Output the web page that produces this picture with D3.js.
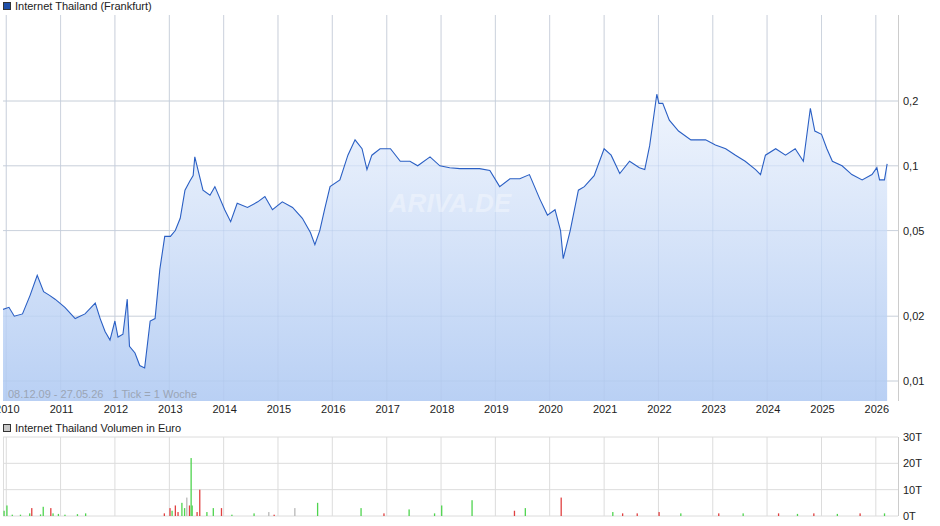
<!DOCTYPE html><html><head><meta charset="utf-8"><script src="https://cdn.jsdelivr.net/npm/d3@7"></script>
<style>body{margin:0;background:#fff;font-family:"Liberation Sans",Arial,sans-serif}text{white-space:pre}</style></head><body><svg id="c" width="940" height="526"></svg><script>
const priceT=[2009.94,2010.05,2010.15,2010.3,2010.44,2010.57,2010.69,2010.8,2010.9,2011.08,2011.27,2011.45,2011.64,2011.73,2011.82,2011.91,2012.0,2012.06,2012.15,2012.23,2012.27,2012.37,2012.46,2012.55,2012.65,2012.74,2012.83,2012.92,2013.02,2013.11,2013.2,2013.29,2013.38,2013.44,2013.47,2013.62,2013.75,2013.84,2014.02,2014.13,2014.25,2014.44,2014.63,2014.76,2014.9,2015.08,2015.27,2015.45,2015.6,2015.68,2015.77,2015.86,2015.96,2016.14,2016.29,2016.42,2016.55,2016.64,2016.73,2016.88,2017.07,2017.25,2017.43,2017.57,2017.8,2017.98,2018.16,2018.35,2018.53,2018.71,2018.9,2019.08,2019.27,2019.45,2019.63,2019.82,2019.96,2020.1,2020.2,2020.25,2020.38,2020.53,2020.64,2020.82,2021.0,2021.13,2021.29,2021.47,2021.65,2021.75,2021.84,2021.97,2022.01,2022.08,2022.2,2022.37,2022.6,2022.87,2023.05,2023.24,2023.42,2023.6,2023.79,2023.88,2023.97,2024.16,2024.34,2024.52,2024.67,2024.8,2024.88,2025.0,2025.1,2025.2,2025.38,2025.56,2025.75,2025.93,2026.02,2026.07,2026.16,2026.21];
const priceV=[0.0215,0.022,0.020,0.0205,0.025,0.031,0.026,0.025,0.024,0.022,0.0195,0.0205,0.023,0.0195,0.017,0.0155,0.019,0.016,0.0165,0.024,0.0145,0.0135,0.0118,0.0115,0.019,0.0195,0.033,0.047,0.047,0.05,0.057,0.077,0.085,0.09,0.11,0.077,0.073,0.08,0.0625,0.055,0.067,0.064,0.068,0.072,0.0625,0.068,0.064,0.057,0.049,0.043,0.05,0.0625,0.08,0.086,0.112,0.132,0.12,0.096,0.112,0.12,0.12,0.105,0.105,0.1,0.11,0.1,0.098,0.097,0.097,0.097,0.095,0.08,0.087,0.087,0.091,0.07,0.059,0.0625,0.05,0.037,0.05,0.077,0.08,0.09,0.12,0.112,0.092,0.105,0.098,0.096,0.124,0.215,0.195,0.195,0.163,0.145,0.132,0.132,0.125,0.12,0.112,0.105,0.096,0.091,0.112,0.12,0.112,0.12,0.105,0.185,0.145,0.14,0.12,0.105,0.1,0.091,0.086,0.091,0.098,0.086,0.086,0.102];
const volT=[2009.95,2010.0,2010.1,2010.25,2010.42,2010.46,2010.62,2010.67,2010.81,2010.85,2010.95,2011.07,2011.3,2011.45,2012.9,2013.0,2013.04,2013.1,2013.15,2013.22,2013.27,2013.31,2013.36,2013.41,2013.39,2013.5,2013.55,2013.68,2013.8,2013.95,2014.14,2014.55,2014.82,2014.92,2015.3,2015.72,2016.52,2016.94,2017.4,2017.87,2018.0,2018.56,2019.34,2019.54,2020.2,2021.15,2021.33,2021.6,2022.0,2022.4,2023.1,2023.55,2024.2,2024.55,2024.85,2025.28,2025.7,2026.15];
const volV=[2,4,0.5,0.5,1,3,0.6,3.5,3,1,0.8,0.5,0.7,1,1,3,2,4,1.5,5,3,7,4,4,22,1.5,10,1.5,3,3,0.5,1,1.5,0.5,3,5,3,1,2.5,1,4,6,2,3,7,1.5,1,1,1.5,1,1,1,1,0.8,1,0.8,1,1];
const volC=["g","g","g","g","g","r","g","g","r","g","g","g","g","g","r","r","g","r","r","g","g","n","r","g","g","r","r","g","g","r","g","g","n","r","n","g","g","r","g","g","g","g","r","g","r","g","r","r","r","g","r","g","r","g","r","g","r","g"];
const years=d3.range(2010,2027);
const priceTicks=[0.01,0.02,0.05,0.1,0.2];
const volTicks=[0,10,20,30];

const svg=d3.select("#c");
const toDate=t=>{const y=Math.floor(t);return new Date(y,0,1+(t-y)*365);};
const x=d3.scaleTime().domain([toDate(2009.94),toDate(2026.41)]).range([3,898]);
const y=d3.scaleLog().domain([0.01,0.2]).range([381,101]);
const yv=d3.scaleLinear().domain([0,30]).range([516,437]);
const defs=svg.append("defs");
const g=defs.append("linearGradient").attr("id","gr").attr("x1",0).attr("y1",0).attr("x2",0).attr("y2",1);
g.append("stop").attr("offset",0).attr("stop-color","#f0f5fd");
g.append("stop").attr("offset",1).attr("stop-color","#b9d0f4");
defs.append("clipPath").attr("id","cp").append("rect").attr("x",3).attr("y",15).attr("width",895).attr("height",386);
svg.append("rect").attr("x",3).attr("y",15).attr("width",895).attr("height",386).attr("fill","#fff");
const grid="#dcdcdc";
svg.append("g").selectAll("line").data(years).join("line").attr("x1",d=>x(new Date(d,0,1))).attr("x2",d=>x(new Date(d,0,1))).attr("y1",15).attr("y2",401).attr("stroke",grid);
svg.append("g").selectAll("line").data(priceTicks).join("line").attr("x1",3).attr("x2",898).attr("y1",d=>y(d)).attr("y2",d=>y(d)).attr("stroke",grid);
const data=priceT.map((t,i)=>({d:toDate(t),v:priceV[i]}));
const pg=svg.append("g").attr("clip-path","url(#cp)");
pg.append("path").datum(data).attr("d",d3.area().x(d=>x(d.d)).y0(401).y1(d=>y(d.v))).attr("fill","url(#gr)");
pg.append("g").selectAll("line").data(years).join("line").attr("x1",d=>x(new Date(d,0,1))).attr("x2",d=>x(new Date(d,0,1))).attr("y1",15).attr("y2",401).attr("stroke","#a9c0e4").attr("stroke-opacity",0.3);
pg.append("g").selectAll("line").data(priceTicks).join("line").attr("x1",3).attr("x2",898).attr("y1",d=>y(d)).attr("y2",d=>y(d)).attr("stroke","#a9c0e4").attr("stroke-opacity",0.3);
pg.append("path").datum(data).attr("d",d3.line().x(d=>x(d.d)).y(d=>y(d.v))).attr("fill","none").attr("stroke","#2a5fc4").attr("stroke-width",1.1);
svg.append("text").attr("x",450).attr("y",212).attr("text-anchor","middle").attr("font-size",26).attr("font-style","italic").attr("font-weight","bold").attr("fill","#fff").attr("fill-opacity",0.35).text("ARIVA.DE");
svg.append("line").attr("x1",898.5).attr("x2",898.5).attr("y1",15).attr("y2",401).attr("stroke","#ccc");
svg.append("g").selectAll("text").data(priceTicks).join("text").attr("x",903).attr("y",d=>y(d)+4).attr("font-size",11).attr("fill","#222").text(d=>String(d).replace(".",","));
svg.append("g").selectAll("text").data(years).join("text").attr("x",d=>x(new Date(d,0,1))+1).attr("y",413).attr("text-anchor","middle").attr("font-size",11).attr("fill","#222").text(d=>d);
svg.append("text").attr("x",8).attr("y",398).attr("font-size",11).attr("fill","#9aa5b5").text("08.12.09 - 27.05.26   1 Tick = 1 Woche");
svg.append("rect").attr("x",3.5).attr("y",2.5).attr("width",7).attr("height",7).attr("fill","#1f4fa8").attr("stroke","#333");
svg.append("text").attr("x",15).attr("y",10).attr("font-size",11).attr("fill","#222").text("Internet Thailand (Frankfurt)");
svg.append("rect").attr("x",3.5).attr("y",424.5).attr("width",7).attr("height",7).attr("fill","#c8c8c8").attr("stroke","#333");
svg.append("text").attr("x",15).attr("y",432).attr("font-size",11).attr("fill","#222").text("Internet Thailand Volumen in Euro");
svg.append("g").selectAll("line").data(years).join("line").attr("x1",d=>x(new Date(d,0,1))).attr("x2",d=>x(new Date(d,0,1))).attr("y1",437).attr("y2",516).attr("stroke",grid);
svg.append("g").selectAll("line").data(volTicks).join("line").attr("x1",3).attr("x2",898).attr("y1",d=>yv(d)).attr("y2",d=>yv(d)).attr("stroke",grid);
svg.append("line").attr("x1",898.5).attr("x2",898.5).attr("y1",437).attr("y2",516).attr("stroke","#ccc");
svg.append("line").attr("x1",3.5).attr("x2",3.5).attr("y1",437).attr("y2",516).attr("stroke","#ddd");
const cmap={g:"#4fd44f",r:"#e04040",n:"#b8b8b8"};
svg.append("g").selectAll("rect").data(volT.map((t,i)=>({d:toDate(t),v:volV[i],c:volC[i]}))).join("rect").attr("x",d=>x(d.d)).attr("width",1.3).attr("y",d=>yv(d.v)).attr("height",d=>516-yv(d.v)).attr("fill",d=>cmap[d.c]);
svg.append("g").selectAll("text").data(volTicks).join("text").attr("x",903).attr("y",d=>yv(d)+4).attr("font-size",11).attr("fill","#222").text(d=>d+"T");
</script></body></html>
